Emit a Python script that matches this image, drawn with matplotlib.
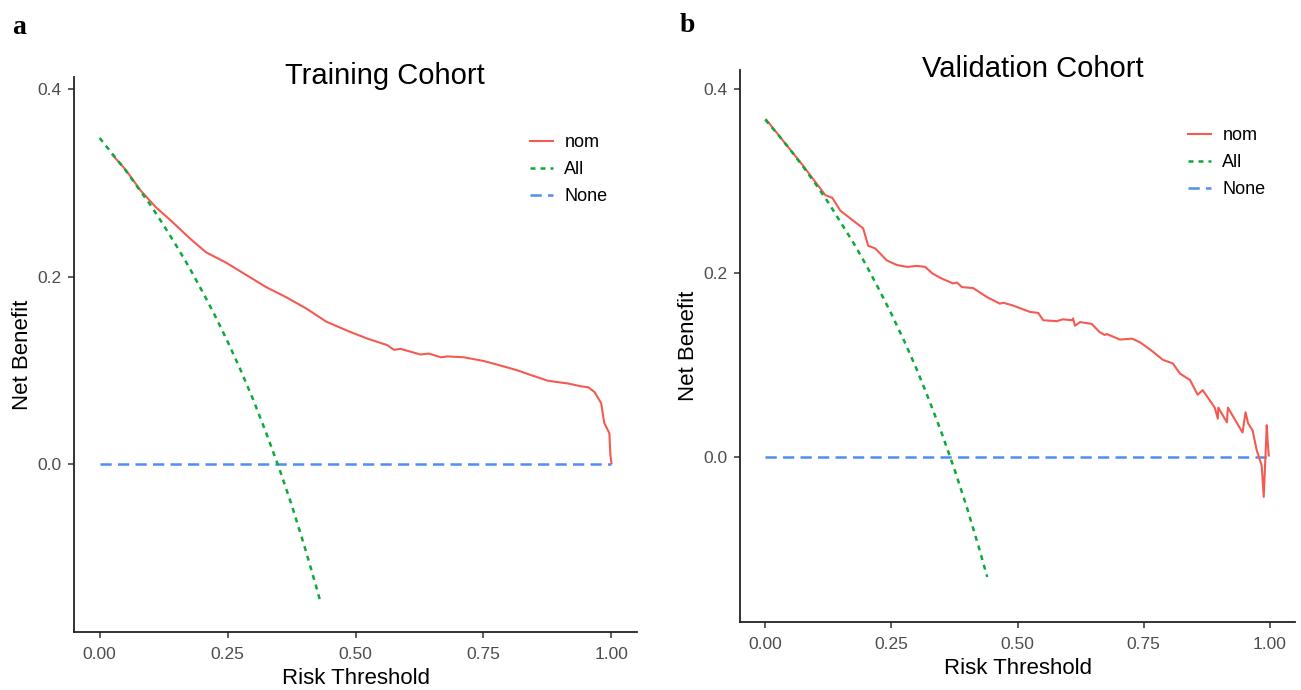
import matplotlib
matplotlib.use("Agg")
import matplotlib.pyplot as plt
from matplotlib.lines import Line2D

# ---------------- data ----------------
train_thr_nom = [0.025, 0.051, 0.080, 0.110, 0.139, 0.176, 0.208, 0.247, 0.286, 0.325,
                 0.365, 0.404, 0.443, 0.490, 0.523, 0.562, 0.575, 0.588, 0.627, 0.643,
                 0.667, 0.680, 0.712, 0.751, 0.778, 0.798, 0.817, 0.843, 0.876, 0.916,
                 0.941, 0.955, 0.967, 0.980, 0.986, 0.996, 0.998, 1.000]
train_nom = [0.330, 0.314, 0.292, 0.274, 0.260, 0.241, 0.226, 0.215, 0.202, 0.189,
             0.178, 0.166, 0.152, 0.141, 0.134, 0.127, 0.122, 0.123, 0.117, 0.118,
             0.114, 0.115, 0.114, 0.110, 0.106, 0.103, 0.100, 0.095, 0.089, 0.086,
             0.083, 0.082, 0.077, 0.065, 0.044, 0.033, 0.010, 0.001]

train_thr_all = [0.0, 0.025, 0.05, 0.075, 0.10, 0.125, 0.15, 0.175, 0.20, 0.225,
                 0.25, 0.275, 0.30, 0.325, 0.35, 0.375, 0.40, 0.425, 0.43]
train_all = [0.348, 0.331, 0.314, 0.295, 0.276, 0.255, 0.233, 0.210, 0.185, 0.159,
             0.131, 0.101, 0.069, 0.034, -0.003, -0.043, -0.087, -0.134, -0.144]

train_thr_none = [0.0, 1.0]
train_none = [0.0, 0.0]

valid_thr_nom = [0.002, 0.075, 0.119, 0.133, 0.149, 0.182, 0.194, 0.204, 0.218, 0.241,
                 0.261, 0.281, 0.301, 0.317, 0.331, 0.347, 0.372, 0.380, 0.390, 0.412,
                 0.440, 0.465, 0.472, 0.491, 0.525, 0.541, 0.551, 0.578, 0.590, 0.608,
                 0.610, 0.614, 0.624, 0.647, 0.663, 0.673, 0.677, 0.703, 0.727, 0.743,
                 0.768, 0.788, 0.808, 0.822, 0.842, 0.857, 0.867, 0.891, 0.897, 0.898,
                 0.915, 0.917, 0.946, 0.952, 0.957, 0.966, 0.974, 0.984, 0.988, 0.992,
                 0.994, 0.996, 0.998]
valid_nom = [0.367, 0.317, 0.285, 0.282, 0.268, 0.254, 0.249, 0.230, 0.227, 0.214,
             0.209, 0.207, 0.208, 0.207, 0.200, 0.195, 0.189, 0.190, 0.185, 0.184,
             0.174, 0.167, 0.168, 0.165, 0.158, 0.157, 0.149, 0.148, 0.150, 0.149,
             0.151, 0.143, 0.147, 0.145, 0.136, 0.133, 0.134, 0.128, 0.129, 0.125,
             0.115, 0.106, 0.102, 0.091, 0.084, 0.068, 0.073, 0.054, 0.042, 0.054,
             0.038, 0.054, 0.027, 0.049, 0.037, 0.029, 0.008, -0.009, -0.043, 0.008,
             0.035, 0.016, 0.002]

valid_thr_all = [0.0, 0.025, 0.05, 0.075, 0.10, 0.125, 0.15, 0.175, 0.20, 0.225,
                 0.25, 0.275, 0.30, 0.325, 0.35, 0.375, 0.40, 0.425, 0.44]
valid_all = [0.367, 0.351, 0.334, 0.316, 0.297, 0.277, 0.255, 0.233, 0.209, 0.183,
             0.156, 0.127, 0.096, 0.062, 0.026, -0.013, -0.055, -0.101, -0.130]

valid_thr_none = [0.0, 0.995]
valid_none = [0.0, 0.0]

x_ticks = [0.0, 0.25, 0.5, 0.75, 1.0]
x_tick_labels = ["0.00", "0.25", "0.50", "0.75", "1.00"]
y_ticks = [0.0, 0.2, 0.4]
y_tick_labels = ["0.0", "0.2", "0.4"]
series_names = ["nom", "All", "None"]
titles = ["Training Cohort", "Validation Cohort"]
panel_letters = ["a", "b"]

# ---------------- style ----------------
plt.rcParams['font.family'] = ['Liberation Sans', 'DejaVu Sans']
W, H = 1301, 690
fig = plt.figure(figsize=(W / 100, H / 100), dpi=100)

c_nom = "#F45A52"
c_all = "#0DAA3A"
c_none = "#4F8FF2"
ls_all = (0, (2.0, 2.0))
ls_none = (0, (4.5, 2.5))


def px_axes(l, t, r, b):
    return fig.add_axes([l / W, 1 - b / H, (r - l) / W, (b - t) / H])


def style(ax, ylim):
    ax.set_xlim(-0.05, 1.05)
    ax.set_ylim(*ylim)
    for s in ("top", "right"):
        ax.spines[s].set_visible(False)
    for s in ("left", "bottom"):
        ax.spines[s].set_linewidth(1.3)
        ax.spines[s].set_color("#222222")
    ax.set_xticks(x_ticks)
    ax.set_xticklabels(x_tick_labels)
    ax.set_yticks(y_ticks)
    ax.set_yticklabels(y_tick_labels)
    ax.tick_params(labelsize=12.5, labelcolor="#4D4D4D", color="#333333",
                   length=4, width=1.1)
    ax.tick_params(axis="x", pad=7)
    ax.tick_params(axis="y", pad=5)
    ax.set_xlabel("Risk Threshold", fontsize=16, labelpad=4)
    ax.set_ylabel("Net Benefit", fontsize=16, labelpad=3)


def draw(ax, tn, n, ta, a, t0, z):
    ax.plot(tn, n, color=c_nom, lw=1.5, zorder=3)
    ax.plot(ta, a, color=c_all, lw=1.8, linestyle=ls_all, zorder=4)
    ax.plot(t0, z, color=c_none, lw=1.8, linestyle=ls_none, zorder=2)


def legend(ax, x, y):
    handles = [Line2D([], [], color=c_nom, lw=1.5),
               Line2D([], [], color=c_all, lw=1.8, linestyle=ls_all),
               Line2D([], [], color=c_none, lw=1.8, linestyle=ls_none)]
    ax.legend(handles, series_names, loc="upper left",
              bbox_to_anchor=(x / W, 1 - y / H), bbox_transform=fig.transFigure,
              frameon=False, fontsize=13, handlelength=1.3, handletextpad=0.6,
              labelspacing=0.55, borderaxespad=0, borderpad=0)


# left panel
ax1 = px_axes(74, 77, 637, 632)
style(ax1, (-0.179, 0.413))
draw(ax1, train_thr_nom, train_nom, train_thr_all, train_all, train_thr_none, train_none)
legend(ax1, 530, 134)
fig.text(385 / W, 1 - 76 / H, titles[0], fontsize=21, ha="center", va="center")
fig.text(12 / W, 1 - 28 / H, panel_letters[0], fontsize=20, fontweight="bold",
         family="Liberation Serif", ha="left", va="center")

# right panel
ax2 = px_axes(740, 70, 1295, 622)
style(ax2, (-0.179, 0.421))
draw(ax2, valid_thr_nom, valid_nom, valid_thr_all, valid_all, valid_thr_none, valid_none)
legend(ax2, 1188, 127)
fig.text(1033 / W, 1 - 69 / H, titles[1], fontsize=21, ha="center", va="center")
fig.text(680 / W, 1 - 25 / H, panel_letters[1], fontsize=20, fontweight="bold",
         family="Liberation Serif", ha="left", va="center")

fig.savefig("out.png", dpi=100, facecolor="white")
